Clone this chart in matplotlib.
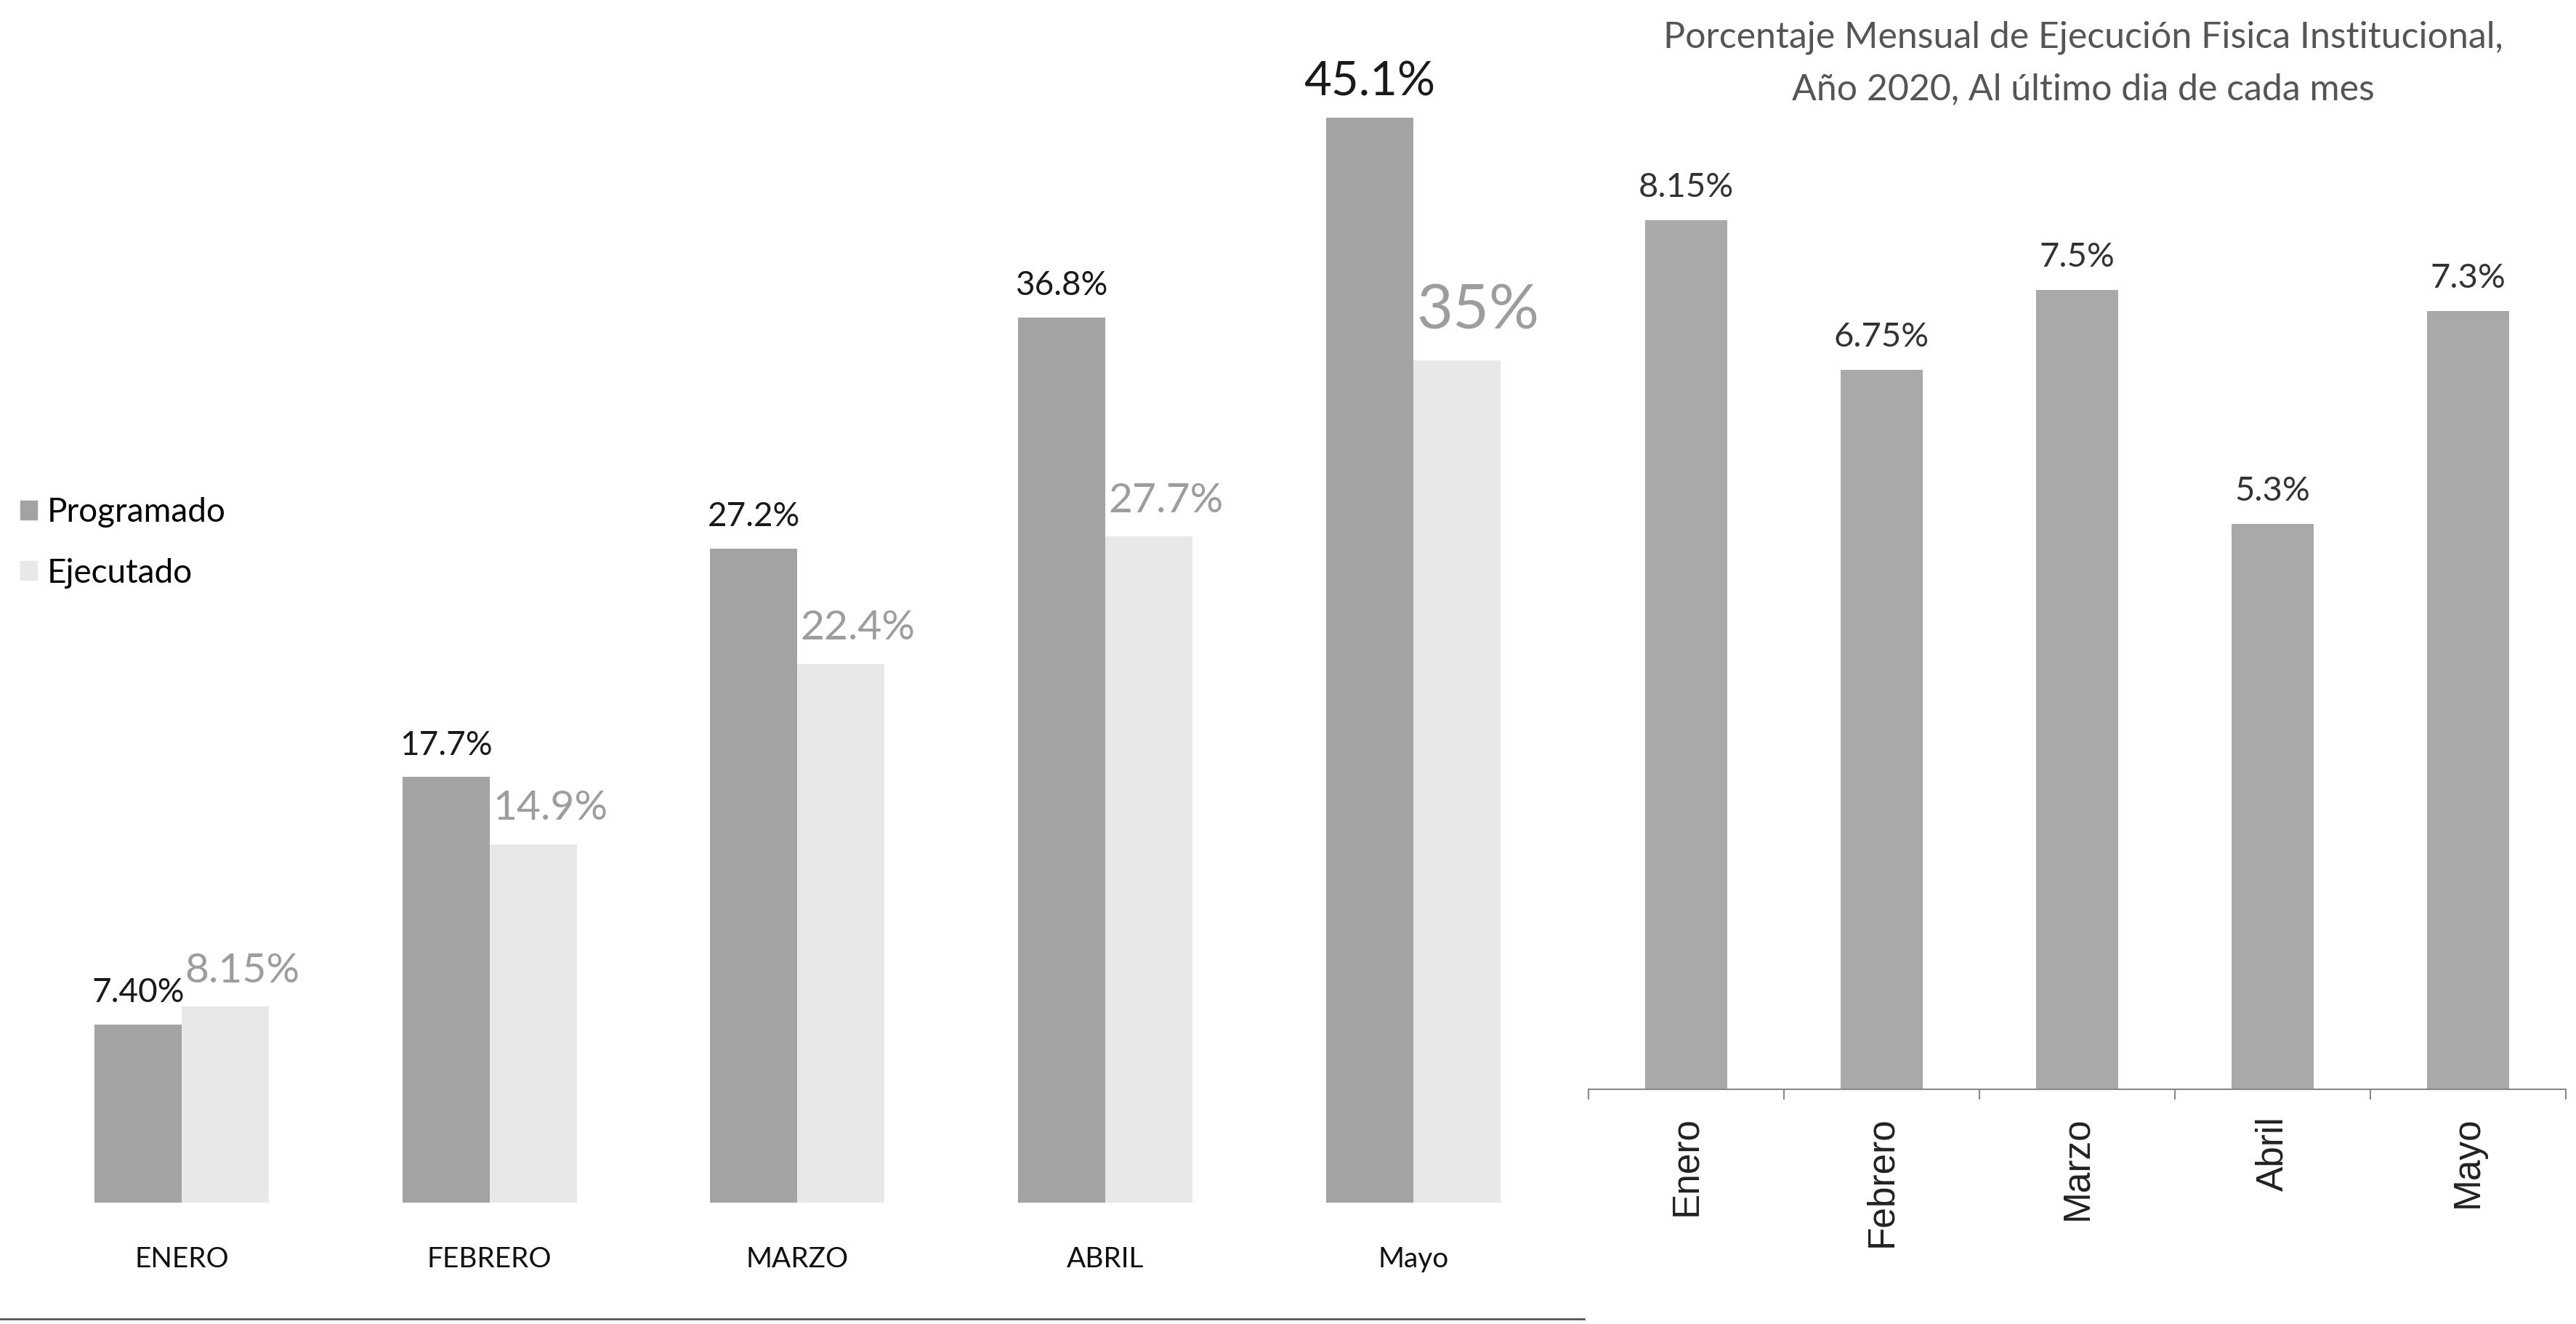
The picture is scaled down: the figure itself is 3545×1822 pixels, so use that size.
import matplotlib
matplotlib.use("Agg")
import matplotlib.pyplot as plt
import numpy as np
from matplotlib.lines import Line2D
from matplotlib.patches import Patch

# datos del grafico izquierdo
meses_izq = ['ENERO', 'FEBRERO', 'MARZO', 'ABRIL', 'Mayo']
programado = [7.40, 17.7, 27.2, 36.8, 45.1]
ejecutado = [8.15, 14.9, 22.4, 27.7, 35]
etiq_prog = ['7.40%', '17.7%', '27.2%', '36.8%', '45.1%']
etiq_ejec = ['8.15%', '14.9%', '22.4%', '27.7%', '35%']

# datos del grafico derecho
meses_der = ['Enero', 'Febrero', 'Marzo', 'Abril', 'Mayo']
mensual = [8.15, 6.75, 7.5, 5.3, 7.3]
etiq_mensual = ['8.15%', '6.75%', '7.5%', '5.3%', '7.3%']
titulo = 'Porcentaje Mensual de Ejecución Fisica Institucional,\nAño 2020, Al último dia de cada mes'

fuente = 'Lato'
c_prog = '#a3a3a3'
c_ejec = '#e8e8e8'

fig = plt.figure(figsize=(35.45, 18.22), dpi=100)

# ---- grafico izquierdo ----
ax1 = fig.add_axes([0.0, 0.0917, 0.6155, 0.9083])
x = np.arange(len(meses_izq))
w = 0.283
b1 = ax1.bar(x - w / 2, programado, w, color=c_prog, label='Programado')
b2 = ax1.bar(x + w / 2, ejecutado, w, color=c_ejec, label='Ejecutado')
ax1.set_xlim(-0.59, 4.56)
ax1.set_ylim(0, 50)
for s in ax1.spines.values():
    s.set_visible(False)
ax1.set_yticks([])
ax1.set_xticks(x)
ax1.set_xticklabels(meses_izq, family=fuente, fontsize=28, color='#111111')
ax1.tick_params(axis='x', length=0, pad=43)

for i, r in enumerate(b1):
    tam = 47 if i == 4 else 33
    ax1.annotate(etiq_prog[i], (r.get_x() + r.get_width() / 2, r.get_height()),
                 xytext=(0, 22), textcoords='offset points', ha='center', va='baseline',
                 family=fuente, fontsize=tam, color='#1a1a1a')
for i, r in enumerate(b2):
    tam = 62 if i == 4 else 41
    desp = 32 if i == 4 else 24
    ax1.annotate(etiq_ejec[i], (r.get_x() + 0.01, r.get_height()),
                 xytext=(0, desp), textcoords='offset points', ha='left', va='baseline',
                 family=fuente, fontsize=tam, color='#9d9d9d')

ax1.legend(handles=[Patch(color=c_prog, label='Programado'), Patch(color=c_ejec, label='Ejecutado')],
           loc='center left', bbox_to_anchor=(0.008, 0.59), bbox_transform=fig.transFigure,
           frameon=False, borderpad=0, borderaxespad=0, handlelength=0.5, handleheight=0.5,
           handletextpad=0.3, labelspacing=0.9, prop={'family': fuente, 'size': 33})

fig.add_artist(Line2D([0.0, 0.615], [0.004, 0.004], color='#555555', lw=2))

# ---- grafico derecho ----
ax2 = fig.add_axes([0.6166, 0.1773, 0.3795, 0.713])
x2 = np.arange(len(meses_der))
b3 = ax2.bar(x2, mensual, 0.42, color='#a9a9a9')
ax2.set_xlim(-0.5, 4.5)
ax2.set_ylim(0, 8.855)
for k in ['left', 'right', 'top']:
    ax2.spines[k].set_visible(False)
ax2.spines['bottom'].set_color('#888888')
ax2.spines['bottom'].set_linewidth(1.5)
ax2.set_yticks([])
ax2.set_xticks(x2)
ax2.set_xticklabels(meses_der, rotation=90, family='Liberation Sans', fontsize=37, color='#222222')
ax2.set_xticks(np.arange(-0.5, 5, 1), minor=True)
ax2.tick_params(axis='x', which='major', length=0, pad=27)
ax2.tick_params(axis='x', which='minor', length=10, width=1.5, color='#888888')

for i, r in enumerate(b3):
    ax2.annotate(etiq_mensual[i], (r.get_x() + r.get_width() / 2, r.get_height()),
                 xytext=(0, 23), textcoords='offset points', ha='center', va='baseline',
                 family=fuente, fontsize=34, color='#333333')

fig.text(0.8088, 0.952, titulo, ha='center', va='center', family=fuente, fontsize=36,
         color='#555555', linespacing=1.7)

fig.savefig('out.png', dpi=100, facecolor='white')
